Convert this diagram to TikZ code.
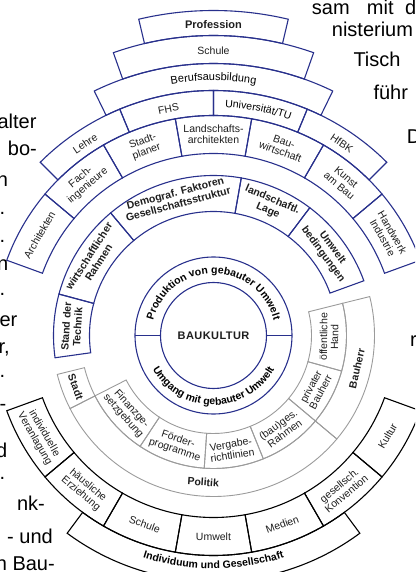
\documentclass[tikz,border=0pt]{standalone}
\usepackage{fontspec}
\setmainfont{Liberation Sans}
\newfontfamily\pagefont{Liberation Sans}
\usetikzlibrary{decorations.text}
\definecolor{dblue}{RGB}{40,48,140}
\definecolor{lgray}{RGB}{155,155,155}
\definecolor{txt}{RGB}{30,30,30}
\newcommand{\annsec}[5][]{%
  \draw[#1] (#4:#2pt) arc[start angle=#4, end angle=#5, radius=#2pt] -- (#5:#3pt)
    arc[start angle=#5, end angle=#4, radius=#3pt] -- cycle;}
\begin{document}
\begin{tikzpicture}[x=1pt,y=1pt,
  bl/.style={draw=dblue, line width=1.1pt},
  gr/.style={draw=lgray, line width=0.9pt},
  bk/.style={draw=black, line width=1.1pt},
  lbl/.style={font=\fontsize{10.5}{11}\selectfont, text=txt, align=center, inner sep=0pt},
  blbl/.style={lbl, font=\bfseries\fontsize{10.5}{11.5}\selectfont},
  ptxt/.style={font=\pagefont\fontsize{20}{24}\selectfont, inner sep=0pt, anchor=base west},
  ptxe/.style={ptxt, anchor=base east}]
\useasboundingbox (-213.5,-236.5) rectangle (201.5,335.5);
\clip (-213.5,-236.5) rectangle (201.5,335.5);
% ---------- blue outer system
\annsec[bl]{300}{325}{103.3}{76.7}
\annsec[bl]{272}{300}{109.5}{70.5}
\annsec[bl]{245}{272}{116}{64}
\foreach \a/\b in {135/112.5,112.5/90,90/67.5,67.5/45} {\annsec[bl]{220}{245}{\a}{\b}}
\foreach \a/\b in {160/140,140/120,120/100,100/80,80/60,60/40,40/20} {\annsec[bl]{182}{220}{\a}{\b}}
% blue ring
\foreach \a/\b in {188/165,165/130,130/80,80/53,53/20} {\annsec[bl]{124}{160}{\a}{\b}}
% centre
\draw[bl] (0,0) circle[radius=53pt];
\draw[bl] (0,0) circle[radius=78.5pt];
\draw[bl] (0:53pt) -- (0:78.5pt);
\draw[bl] (180:53pt) -- (180:78.5pt);
% ---------- gray system
\foreach \a/\b in {207/236.5,236.5/266,266/292,292/320,320/344.5,344.5/374} {\annsec[gr]{98}{133}{\a}{\b}}
\foreach \a/\b in {194/207,207/320,320/374} {\annsec[gr]{133}{161}{\a}{\b}}
% ---------- black system
\foreach \a/\b in {200/220,220/240,240/260,260/280,280/300,300/320,320/340} {\annsec[bk]{182}{220}{\a}{\b}}
\annsec[bk]{220}{246}{233.5}{306.5}
% ---------- labels blue outer
\node[blbl, font=\bfseries\fontsize{11}{12}\selectfont] (lprof) at (90:311pt) {Profession};
\node[lbl, font=\fontsize{10.5}{11}\selectfont] (lschule) at (90:285pt) {Schule};
\path[decorate, decoration={text along path, text={|\fontsize{11}{12}\selectfont|Berufsausbildung}, text align=center}]
  (110:255pt) arc[start angle=110, end angle=70, radius=255pt];
\node[lbl, rotate=33.75] (llehre) at (123.75:231pt) {Lehre};
\node[lbl, rotate=11.25] (lfhs) at (101.25:231pt) {FHS};
\path[decorate, decoration={text along path, text={|\fontsize{10.5}{11}\selectfont|Universität/TU}, text align=center}]
  (90:228.5pt) arc[start angle=90, end angle=67.5, radius=228.5pt];
\node[lbl, rotate=-33.75] (lhfbk) at (56.25:231pt) {HfBK};
\node[lbl, rotate=60] (larch) at (150:201pt) {Architekten};
\node[lbl, rotate=40] (lfach) at (130:201pt) {Fach-\\ingenieure};
\node[lbl, rotate=20] (lstadtpl) at (110:201pt) {Stadt-\\planer};
\node[lbl, rotate=0] (llands) at (90:201pt) {Landschafts-\\architekten};
\node[lbl, rotate=-20] (lbauw) at (70:201pt) {Bau-\\wirtschaft};
\node[lbl, rotate=-40] (lkunst) at (50:201pt) {Kunst\\am Bau};
\node[lbl, rotate=-60] (lhand) at (30:201pt) {Handwerk\\Industrie};
% blue ring labels
\node[blbl, rotate=86.5] (lstand) at (176.5:142pt) {Stand der\\Technik};
\node[blbl, rotate=57.5] (lwirt) at (147.5:142pt) {wirtschaftlicher\\Rahmen};
\node[blbl, rotate=15] (ldemo) at (105:142pt) {Demograf. Faktoren\\Gesellschaftsstruktur};
\node[blbl, rotate=-23.5] (lland) at (66.5:142pt) {landschaftl.\\Lage};
\node[blbl, rotate=-53.5] (lumw) at (36.5:142pt) {Umwelt\\bedingungen};
% centre labels
\node[blbl, font=\bfseries\fontsize{11}{12}\selectfont\addfontfeatures{LetterSpace=4}] (lbk) at (0,0) {BAUKULTUR};
\path[decorate, decoration={text along path, text={|\bfseries\fontsize{10.5}{11}\selectfont|Produktion von gebauter Umwelt}, text align=center}]
  (179:62pt) arc[start angle=179, end angle=1, radius=62pt];
\path[decorate, decoration={text along path, text={|\bfseries\fontsize{10.5}{11}\selectfont|Umgang mit gebauter Umwelt}, text align=center}]
  (181:69.5pt) arc[start angle=181, end angle=359, radius=69.5pt];
% gray labels
\node[lbl, rotate=-48.25] (lfin) at (221.75:115.5pt) {Finanzge-\\setzgebung};
\node[lbl, rotate=-18.75] (lfoe) at (251.25:115.5pt) {Förder-\\programme};
\node[lbl, rotate=9] (lverg) at (279:115.5pt) {Vergabe-\\richtlinien};
\node[lbl, rotate=36] (lbaug) at (306:115.5pt) {(bau)ges.\\Rahmen};
\node[lbl, rotate=62.25] (lpriv) at (332.25:115.5pt) {privater\\Bauherr};
\node[lbl, rotate=89.25] (loeff) at (359.25:115.5pt) {öffentliche\\Hand};
\node[blbl, rotate=-69.5] (lstadt) at (200.5:147pt) {Stadt};
\node[blbl, rotate=-4] (lpol) at (266:147pt) {Politik};
\node[blbl, rotate=77] (lbauh) at (347:147pt) {Bauherr};
% black labels
\node[lbl, rotate=-60] (lind) at (210:201pt) {individuelle\\Veranlagung};
\node[lbl, rotate=-40] (lhaus) at (230:201pt) {häusliche\\Erziehung};
\node[lbl, rotate=-20] (lschule2) at (250:201pt) {Schule};
\node[lbl, rotate=0] (lumwelt) at (270:201pt) {Umwelt};
\node[lbl, rotate=20] (lmed) at (290:201pt) {Medien};
\node[lbl, rotate=40] (lges) at (310:201pt) {gesellsch.\\Konvention};
\node[lbl, rotate=60] (lkult) at (330:201pt) {Kultur};
\path[decorate, decoration={text along path, text={|\bfseries\fontsize{10.5}{11}\selectfont|Individuum und Gesellschaft}, text align=center}]
  (240:233pt) arc[start angle=240, end angle=300, radius=233pt];
% ---------- surrounding page text fragments
\node[ptxt] (p1) at (98.2,320.5) {sam};
\node[ptxt] (p2) at (153.2,320.5) {mit};
\node[ptxt] (p3) at (191.5,320.5) {d};
\node[ptxt] (p4) at (118.2,298.8) {nisterium};
\node[ptxt] (p5) at (139.8,268.8) {Tisch};
\node[ptxt] (p6) at (159.8,235.5) {führ};
\node[ptxt] (p7) at (193.2,192.2) {D};
\node[ptxt] (p8) at (196.5,-11.2) {r};
\node[ptxe] (q1) at (-176.8,207.2) {alter};
\node[ptxe] (q2) at (-176.5,179.8) {bo-};
\node[ptxe] (q3) at (-205.2,148.8) {n};
\node[ptxe] (q4) at (-208,120.8) {.};
\node[ptxe] (q5) at (-208,92.8) {.};
\node[ptxe] (q6) at (-205,64.8) {n};
\node[ptxe] (q7) at (-208,40) {.};
\node[ptxe] (q8) at (-196,8.8) {er};
\node[ptxe] (q9) at (-203.5,-18) {r,};
\node[ptxe] (q10) at (-208,-42) {.};
\node[ptxe] (q11) at (-207,-75.2) {-};
\node[ptxe] (q12) at (-206,-122) {d};
\node[ptxe] (q13) at (-208,-144) {.};
\node[ptxe] (q14) at (-168.5,-174.5) {nk-};
\node[ptxe] (q15) at (-160.5,-207.5) {- und};
\node[ptxe] (q16) at (-158.5,-234.5) {en Bau-};
\end{tikzpicture}
\end{document}
